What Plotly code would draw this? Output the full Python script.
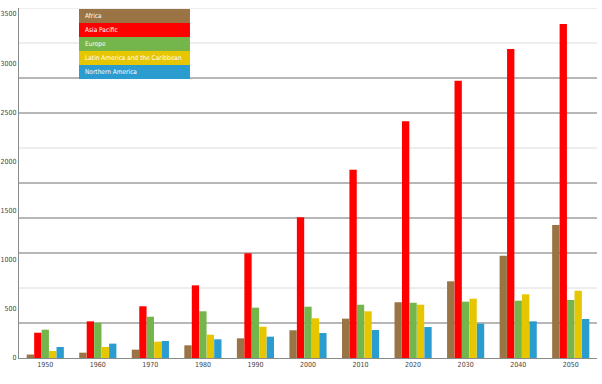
import plotly.graph_objects as go

years = ["1950", "1960", "1970", "1980", "1990", "2000", "2010", "2020", "2030", "2040", "2050"]
africa = [35, 54, 85, 129, 200, 282, 400, 567, 780, 1040, 1353]
asia_pacific = [257, 373, 526, 739, 1065, 1431, 1915, 2407, 2820, 3143, 3397]
europe = [288, 359, 420, 475, 512, 522, 542, 562, 573, 583, 590]
latin_america = [71, 112, 166, 237, 318, 404, 475, 542, 603, 648, 684]
northern_america = [112, 146, 173, 190, 217, 254, 285, 315, 349, 373, 397]

series_names = ["Africa", "Asia Pacific", "Europe", "Latin America and the Caribbean", "Northern America"]
series_values = [africa, asia_pacific, europe, latin_america, northern_america]
colors = ["#9a7444", "#ff0000", "#74b54c", "#e6c600", "#2a9ccf"]

y_ticks = [0, 500, 1000, 1500, 2000, 2500, 3000, 3500]
grid_step = 356
grid_dark = [1, 3, 4, 5, 7, 8]

fig = go.Figure()
for name, vals, col in zip(series_names, series_values, colors):
    fig.add_trace(go.Bar(x=years, y=vals, name=name, marker=dict(color=col, line=dict(width=0))))

shapes = []
for k in range(1, 11):
    dark = k in grid_dark
    shapes.append(dict(type="line", xref="paper", yref="y", x0=0, x1=1,
                       y0=k * grid_step, y1=k * grid_step, layer="below",
                       line=dict(color="#707070" if dark else "#dcdcdc", width=1)))

# custom legend box
lx0, lx1 = 0.1038, 0.2958
row_h = 0.04
top = 0.997
annotations = []
for i, (name, col) in enumerate(zip(series_names, colors)):
    y1 = top - i * row_h
    y0 = y1 - row_h
    shapes.append(dict(type="rect", xref="paper", yref="paper", x0=lx0, x1=lx1, y0=y0, y1=y1,
                       fillcolor=col, line=dict(width=0), layer="above"))
    annotations.append(dict(xref="paper", yref="paper", x=lx0 + 0.007, y=(y0 + y1) / 2,
                            text=name, showarrow=False, xanchor="left", yanchor="middle",
                            font=dict(family="DejaVu Sans Condensed, sans-serif", size=6.5, color="white")))

tick_font = dict(family="DejaVu Sans Condensed, sans-serif", size=7, color="#444")

fig.update_layout(
    width=602, height=384,
    margin=dict(l=19, r=5, t=8, b=26),
    paper_bgcolor="white", plot_bgcolor="white",
    barmode="group", bargap=0.29, bargroupgap=0.02,
    showlegend=False,
    shapes=shapes, annotations=annotations,
    font=tick_font,
    xaxis=dict(type="category", showline=True, linecolor="#8a8a8a", linewidth=1,
               showgrid=False, ticks="", tickfont=tick_font, automargin=False),
    yaxis=dict(range=[0, 3560], tickvals=y_ticks, showgrid=False, zeroline=False,
               showline=True, linecolor="#8a8a8a", linewidth=1, ticks="",
               tickfont=tick_font, automargin=False, ticklabelstandoff=0),
)

fig.write_html("out.html", config={"displayModeBar": False},
               post_script="document.body.style.margin='0';")
